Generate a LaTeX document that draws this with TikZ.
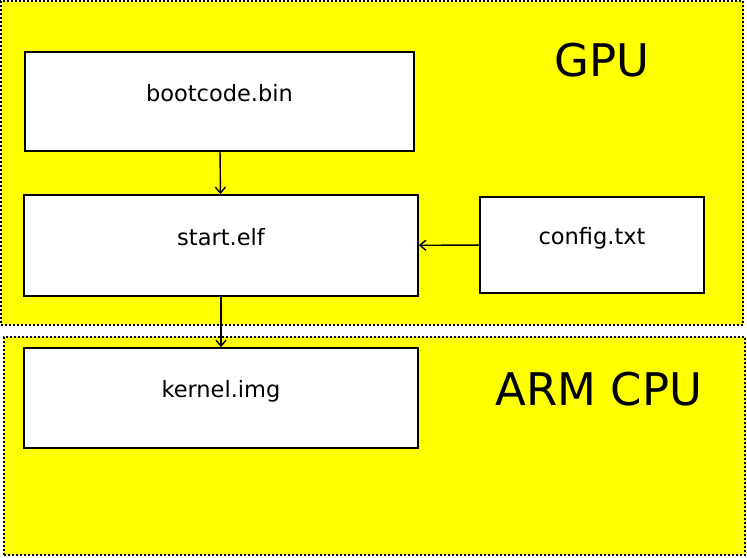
\documentclass[tikz,border=0pt]{standalone}
\usepackage{fontspec}
\setmainfont{DejaVu Sans}
\usepackage{xcolor}
\usepackage{tikz}
\usetikzlibrary{arrows.meta, calc}
\definecolor{regionyellow}{RGB}{255,255,0}

\begin{document}
\begin{tikzpicture}[x=1pt,y=1pt,>={Straight Barb[length=6pt,width=10pt]},
		file node/.style={rectangle,draw,fill=white,line width=1.6pt,inner sep=0pt,
			text height=9pt,text depth=9pt,font=\fontsize{22.5}{26}\selectfont},
		region/.style={rectangle,draw,fill=regionyellow,line width=1.6pt,dash pattern=on 2pt off 2pt,inner sep=0pt},
		title node/.style={font=\fontsize{45}{54}\selectfont},
		link/.style={->,line width=1.4pt}]
		
		\useasboundingbox (0,0) rectangle (747,557);
		
		% the two regions
		\node[region,minimum width=742,minimum height=324] (gpu) at (372,394) {};
		\node[region,minimum width=741,minimum height=218] (arm) at (374.5,111) {};
		\node[title node] (gputitle) at (602,497) {GPU};
		\node[title node] (armtitle) at (599,168) {ARM CPU};
		
		% the files
		\node[file node,minimum width=389,minimum height=99] (boot) at (219.5,455.5) {bootcode.bin};
		\node[file node,minimum width=394,minimum height=101] (start) at (221,311.5) {start.elf};
		\node[file node,minimum width=224,minimum height=96] (config) at (592,312) {config.txt};
		\node[file node,minimum width=394,minimum height=100] (kernel) at (221,159) {kernel.img};
		
		\path[link]
		(boot) edge (start)
		(config) edge (start)
		(start) edge (kernel);
\end{tikzpicture}
\end{document}
